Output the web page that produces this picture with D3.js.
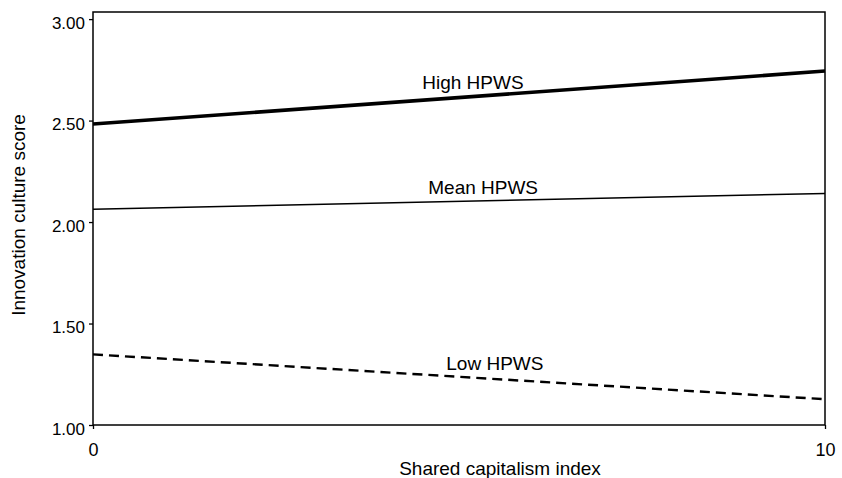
<!DOCTYPE html>
<html>
<head>
<meta charset="utf-8">
<script src="https://cdn.jsdelivr.net/npm/d3@7"></script>
<style>
  body { margin: 0; background: #fff; }
  text { font-family: "Liberation Sans", Arial, Helvetica, sans-serif; fill: #000; }
</style>
</head>
<body>
<div id="chart"></div>
<script>
// data
var xEnds = [0, 10];
var highHPWS = [2.483, 2.744];
var meanHPWS = [2.063, 2.141];
var lowHPWS = [1.348, 1.127];
var seriesNames = ['High HPWS', 'Mean HPWS', 'Low HPWS'];
var yTicks = [1.0, 1.5, 2.0, 2.5, 3.0];
var xTicks = [0, 10];

var svgWidth = 842;
var svgHeight = 478;
var margin = { top: 12, right: 17, bottom: 53, left: 93 };

var svg = d3.select('#chart')
  .append('svg')
  .attr('width', svgWidth)
  .attr('height', svgHeight);

var xScale = d3.scaleLinear()
  .domain([0, 10])
  .range([margin.left, svgWidth - margin.right]);

var yScale = d3.scaleLinear()
  .domain([1, 3.035])
  .range([svgHeight - margin.bottom, margin.top]);

// frame round the plot
svg.append('rect')
  .attr('x', xScale(0))
  .attr('y', yScale(3.035))
  .attr('width', xScale(10) - xScale(0))
  .attr('height', yScale(1) - yScale(3.035))
  .attr('fill', 'none')
  .attr('stroke', '#000')
  .attr('stroke-width', 1.5);

// axes
var leftAxis = d3.axisLeft(yScale)
  .tickValues(yTicks)
  .tickFormat(d3.format('.2f'))
  .tickSize(4)
  .tickPadding(4);

var bottomAxis = d3.axisBottom(xScale)
  .tickValues(xTicks)
  .tickFormat(d3.format('d'))
  .tickSize(4)
  .tickPadding(14);

var gy = svg.append('g')
  .attr('transform', 'translate(' + xScale(0) + ',0)')
  .call(leftAxis);
gy.select('.domain').remove();
gy.selectAll('line').attr('stroke', '#000').attr('stroke-width', 1.3);
gy.selectAll('text')
  .attr('font-size', 17)
  .attr('dy', '0.53em')
  .style('font-family', '"Liberation Sans", Arial, sans-serif');

var gx = svg.append('g')
  .attr('transform', 'translate(0,' + yScale(1) + ')')
  .call(bottomAxis);
gx.select('.domain').remove();
gx.selectAll('line').attr('stroke', '#000').attr('stroke-width', 1.3);
gx.selectAll('text')
  .attr('font-size', 18)
  .style('font-family', '"Liberation Sans", Arial, sans-serif');

// axis titles
svg.append('text')
  .attr('x', 500)
  .attr('y', 475)
  .attr('text-anchor', 'middle')
  .attr('font-size', 19)
  .text('Shared capitalism index');

svg.append('text')
  .attr('transform', 'translate(25,215)rotate(-90)')
  .attr('text-anchor', 'middle')
  .attr('font-size', 19)
  .text('Innovation culture score');

// the three lines
var line = d3.line()
  .x(function(d, i) { return xScale(xEnds[i]); })
  .y(function(d) { return yScale(d); });

var series = [
  { name: seriesNames[0], values: highHPWS, width: 3.6, dash: null, labelX: 5.19, off: -7.5 },
  { name: seriesNames[1], values: meanHPWS, width: 1.5, dash: null, labelX: 5.33, off: -7 },
  { name: seriesNames[2], values: lowHPWS, width: 2.4, dash: '10,6', labelX: 5.49, off: -9 }
];

series.forEach(function(s) {
  svg.append('path')
    .datum(s.values)
    .attr('d', line)
    .attr('fill', 'none')
    .attr('stroke', '#000')
    .attr('stroke-width', s.width)
    .attr('stroke-dasharray', s.dash);

  // value of the line under the label
  var t = s.labelX / 10;
  var v = s.values[0] + (s.values[1] - s.values[0]) * t;
  svg.append('text')
    .attr('x', xScale(s.labelX))
    .attr('y', yScale(v) + s.off)
    .attr('text-anchor', 'middle')
    .attr('font-size', 19)
    .text(s.name);
});
</script>
</body>
</html>
